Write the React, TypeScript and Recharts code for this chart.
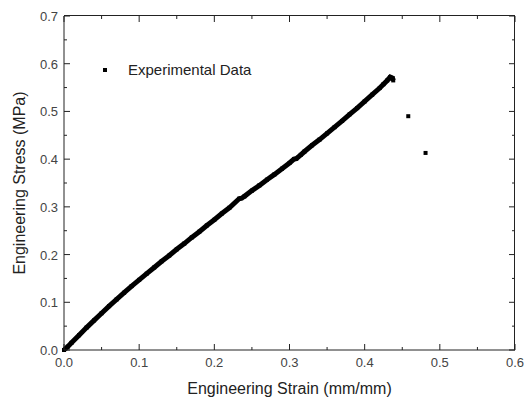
import React from 'react';
import { ScatterChart, Scatter, XAxis, YAxis } from 'recharts';

// stress-strain curve
const strain = [
  0, 0.005, 0.01, 0.02, 0.03, 0.04, 0.05, 0.06, 0.07, 0.08, 0.09, 0.1, 0.11, 0.12, 0.13, 0.14,
  0.15, 0.16, 0.17, 0.18, 0.19, 0.2, 0.21, 0.22, 0.233, 0.236, 0.24, 0.25, 0.26, 0.27, 0.28,
  0.29, 0.3, 0.306, 0.309, 0.315, 0.32, 0.33, 0.34, 0.35, 0.36, 0.37, 0.38, 0.39, 0.4, 0.41,
  0.42, 0.425, 0.43, 0.434, 0.437, 0.438,
];
const stress = [
  0, 0.007, 0.015, 0.031, 0.047, 0.062, 0.077, 0.092, 0.106, 0.12, 0.134, 0.147, 0.16, 0.173,
  0.186, 0.198, 0.211, 0.223, 0.236, 0.248, 0.261, 0.273, 0.286, 0.298, 0.317, 0.318, 0.322,
  0.334, 0.345, 0.357, 0.368, 0.38, 0.392, 0.4, 0.401, 0.409, 0.416, 0.429, 0.441, 0.454, 0.467,
  0.48, 0.494, 0.507, 0.521, 0.535, 0.549, 0.557, 0.565, 0.572, 0.57, 0.565,
];
// points after failure
const tailStrain = [0.458, 0.481];
const tailStress = [0.49, 0.413];

const xTicks = [0, 0.05, 0.1, 0.15, 0.2, 0.25, 0.3, 0.35, 0.4, 0.45, 0.5, 0.55, 0.6];
const yTicks = [0, 0.05, 0.1, 0.15, 0.2, 0.25, 0.3, 0.35, 0.4, 0.45, 0.5, 0.55, 0.6, 0.65, 0.7];

const curveData = strain.map((x, i) => ({ x, y: stress[i] }));
const tailData = tailStrain.map((x, i) => ({ x, y: tailStress[i] }));

const FONT = '"Liberation Sans", Arial, sans-serif';
const AXIS = '#222';
const LABEL = '#444';

// plot box edges, used for the frame and the mirrored ticks
const PLOT_LEFT = 64;
const PLOT_TOP = 16;
const PLOT_RIGHT = 515;
const PLOT_BOTTOM = 350;

const isMajor = (v: number) => Math.round(v * 100) % 10 === 0;

const BottomTick = ({ x, y, payload }: any) => {
  const v = payload.value;
  const len = isMajor(v) ? 6 : 3;
  return (
    <g>
      <line x1={x} y1={y} x2={x} y2={y - len} stroke={AXIS} strokeWidth={1} />
      <line x1={x} y1={PLOT_TOP} x2={x} y2={PLOT_TOP + len} stroke={AXIS} strokeWidth={1} />
      {isMajor(v) && (
        <text x={x} y={y + 17} textAnchor="middle" fontSize={13} fill={LABEL} fontFamily={FONT}>
          {v.toFixed(1)}
        </text>
      )}
    </g>
  );
};

const LeftTick = ({ x, y, payload }: any) => {
  const v = payload.value;
  const len = isMajor(v) ? 6 : 3;
  return (
    <g>
      <line x1={x} y1={y} x2={x + len} y2={y} stroke={AXIS} strokeWidth={1} />
      <line x1={PLOT_RIGHT} y1={y} x2={PLOT_RIGHT - len} y2={y} stroke={AXIS} strokeWidth={1} />
      {isMajor(v) && (
        <text x={x - 6} y={y + 5} textAnchor="end" fontSize={13} fill={LABEL} fontFamily={FONT}>
          {v.toFixed(1)}
        </text>
      )}
    </g>
  );
};

const Dot = ({ cx, cy }: any) => <rect x={cx - 2} y={cy - 2} width={4} height={4} fill="#000" />;

const App: React.FC = () => {
  return (
    <div style={{ position: 'absolute', left: 0, top: 0, width: 525, height: 402 }}>
      <ScatterChart width={525} height={402} margin={{ top: PLOT_TOP, right: 525 - PLOT_RIGHT, bottom: 0, left: 0 }}>
        <XAxis
          type="number"
          dataKey="x"
          domain={[0, 0.6]}
          ticks={xTicks}
          interval={0}
          tickSize={0}
          tickMargin={0}
          tickLine={false}
          tick={<BottomTick />}
          stroke={AXIS}
          height={52}
          label={{ value: 'Engineering Strain (mm/mm)', position: 'insideBottom', offset: 8, fill: '#222', fontSize: 16, fontFamily: FONT }}
        />
        <YAxis
          type="number"
          dataKey="y"
          domain={[0, 0.7]}
          ticks={yTicks}
          interval={0}
          tickSize={0}
          tickMargin={0}
          tickLine={false}
          tick={<LeftTick />}
          stroke={AXIS}
          width={64}
          label={{ value: 'Engineering Stress (MPa)', angle: -90, position: 'insideLeft', offset: 19, fill: '#222', fontSize: 16, fontFamily: FONT, style: { textAnchor: 'middle' } }}
        />
        <Scatter
          data={curveData}
          line={{ stroke: '#000', strokeWidth: 5 }}
          shape={<Dot />}
          isAnimationActive={false}
        />
        <Scatter data={tailData} shape={<Dot />} isAnimationActive={false} />
      </ScatterChart>
      {/* top and right edges of the plot frame */}
      <div
        style={{
          position: 'absolute',
          left: PLOT_LEFT,
          top: PLOT_TOP - 1,
          width: PLOT_RIGHT - PLOT_LEFT,
          height: PLOT_BOTTOM - PLOT_TOP + 1,
          borderTop: `1px solid ${AXIS}`,
          borderRight: `1px solid ${AXIS}`,
          boxSizing: 'border-box',
          pointerEvents: 'none',
        }}
      />
      <div
        style={{
          position: 'absolute',
          left: 103,
          top: 61,
          display: 'flex',
          alignItems: 'center',
          fontFamily: FONT,
          fontSize: 15,
          color: '#222',
        }}
      >
        <span style={{ display: 'inline-block', width: 4, height: 4, background: '#000', marginRight: 21 }} />
        <span>Experimental Data</span>
      </div>
    </div>
  );
};

export default App;
